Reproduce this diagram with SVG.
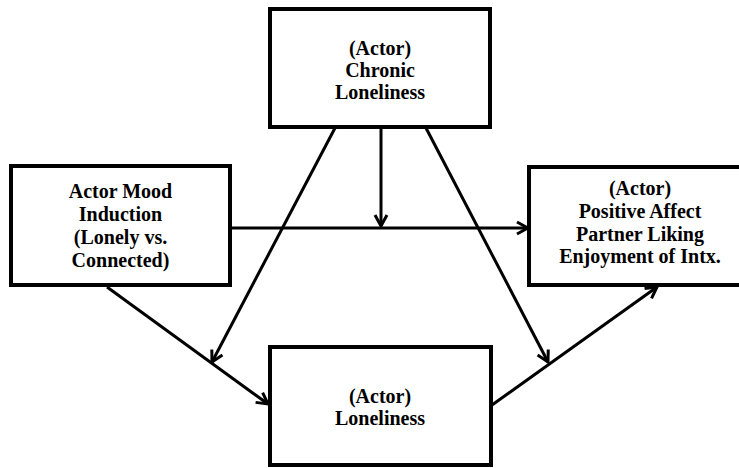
<svg xmlns="http://www.w3.org/2000/svg" width="739" height="468" viewBox="0 0 739 468">
<style>
.box{fill:#fff;stroke:#000;stroke-width:4}
.t{font-family:"Liberation Serif","Times New Roman",serif;font-weight:bold;font-size:20px;fill:#000;text-anchor:middle}
.c{stroke:#000;stroke-width:3;fill:none}
</style>
<defs>
<marker id="ah" markerUnits="userSpaceOnUse" markerWidth="16" markerHeight="16" viewBox="0 0 16 16" refX="14" refY="8" orient="auto">
<path d="M3,2 L14,8 L3,14" fill="none" stroke="#000" stroke-width="3"/>
</marker>
</defs>
<rect width="739" height="468" fill="#fff"/>
<g id="connectors">
<line class="c" x1="230" y1="228" x2="528" y2="228" marker-end="url(#ah)"/>
<line class="c" x1="381" y1="127" x2="381" y2="226" marker-end="url(#ah)"/>
<line class="c" x1="335" y1="128" x2="212" y2="362" marker-end="url(#ah)"/>
<line class="c" x1="107" y1="287" x2="268" y2="404" marker-end="url(#ah)"/>
<line class="c" x1="426" y1="128" x2="548" y2="362" marker-end="url(#ah)"/>
<line class="c" x1="492" y1="405" x2="657" y2="287" marker-end="url(#ah)"/>
</g>
<g id="chronic">
<rect class="box" x="270" y="9" width="220" height="118"/>
<text class="t" x="380" y="55">(Actor)</text>
<text class="t" x="380" y="77">Chronic</text>
<text class="t" x="380" y="99">Loneliness</text>
</g>
<g id="mood">
<rect class="box" x="11" y="166" width="219" height="119"/>
<text class="t" x="120.5" y="198">Actor Mood</text>
<text class="t" x="120.5" y="221">Induction</text>
<text class="t" x="120.5" y="244">(Lonely vs.</text>
<text class="t" x="120.5" y="267">Connected)</text>
</g>
<g id="outcome">
<rect class="box" x="529" y="167" width="222" height="118"/>
<text class="t" x="640" y="195">(Actor)</text>
<text class="t" x="640" y="218">Positive Affect</text>
<text class="t" x="640" y="241">Partner Liking</text>
<text class="t" x="640" y="263">Enjoyment of Intx.</text>
</g>
<g id="loneliness">
<rect class="box" x="270" y="347" width="221" height="118"/>
<text class="t" x="380" y="403">(Actor)</text>
<text class="t" x="380" y="425">Loneliness</text>
</g>
</svg>
